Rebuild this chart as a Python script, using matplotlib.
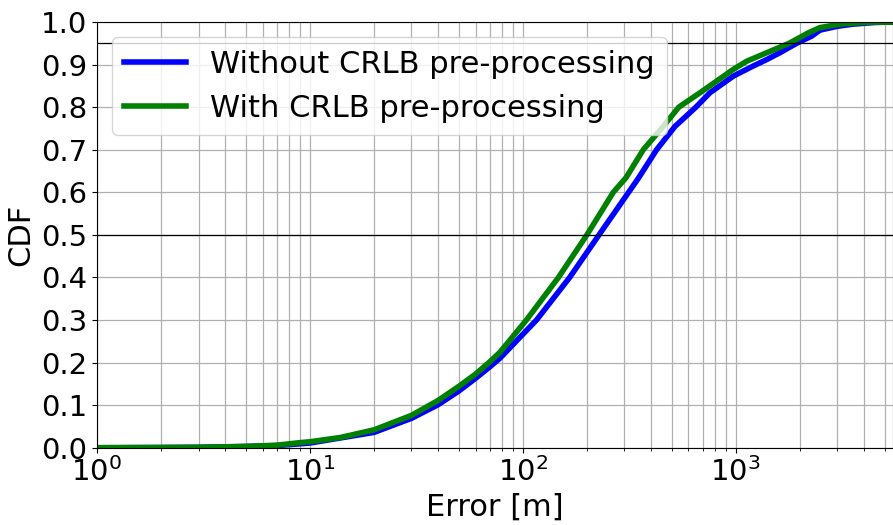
import numpy as np
import matplotlib
matplotlib.use('Agg')
import matplotlib.pyplot as plt

# erro de localização [m] e CDF correspondente (sem / com pré-processamento CRLB)
err_without = [1, 2, 3, 5, 7, 10, 20, 30, 40, 50, 60, 70, 78, 116, 166, 228, 314,
               350, 425, 519, 650, 757, 975, 1200, 1400, 1614, 1932, 2275, 2488,
               3000, 3550, 4500, 5500]
cdf_without = [0.0, 0.0005, 0.001, 0.003, 0.005, 0.011, 0.036, 0.069, 0.101, 0.133,
               0.163, 0.190, 0.210, 0.300, 0.400, 0.500, 0.600, 0.634, 0.700, 0.755,
               0.800, 0.834, 0.873, 0.896, 0.912, 0.928, 0.950, 0.967, 0.981,
               0.990, 0.995, 0.999, 1.0]

err_with = [1, 2, 3, 5, 7, 9, 10, 13.9, 20, 30, 40, 50, 60, 70, 78, 104, 147, 200,
            266, 305, 368, 457, 540, 680, 975, 1127, 1400, 1780, 2200, 2488, 3082,
            4000, 5500]
cdf_with = [0.0, 0.0005, 0.001, 0.003, 0.006, 0.012, 0.014, 0.024, 0.042, 0.076,
            0.111, 0.144, 0.173, 0.202, 0.224, 0.300, 0.400, 0.500, 0.600, 0.634,
            0.700, 0.755, 0.800, 0.834, 0.889, 0.908, 0.928, 0.950, 0.975, 0.987,
            0.995, 0.999, 1.0]

labels = ['Without CRLB pre-processing', 'With CRLB pre-processing']

fig = plt.figure(figsize=(8.93, 5.25), dpi=100)
ax = fig.add_axes([0.1086, 0.1472, 0.8914, 0.8108])

ax.plot(err_without, cdf_without, color='blue', lw=4, label=labels[0])
ax.plot(err_with, cdf_with, color='green', lw=4, label=labels[1])
ax.axhline(0.5, color='black', lw=0.9)
ax.axhline(0.95, color='black', lw=0.9)

ax.set_xscale('log')
ax.set_xlim(1, 5480)
ax.set_ylim(0, 1)
ax.set_yticks(np.arange(0, 1.01, 0.1))
ax.grid(which='major', color='#b0b0b0', lw=0.9)
ax.grid(which='minor', color='#b0b0b0', lw=0.9)
ax.tick_params(labelsize=21)
ax.set_xlabel('Error [m]', fontsize=22)
ax.set_ylabel('CDF', fontsize=22)
ax.legend(loc='upper left', fontsize=22)

fig.savefig('out.png', dpi=100)
